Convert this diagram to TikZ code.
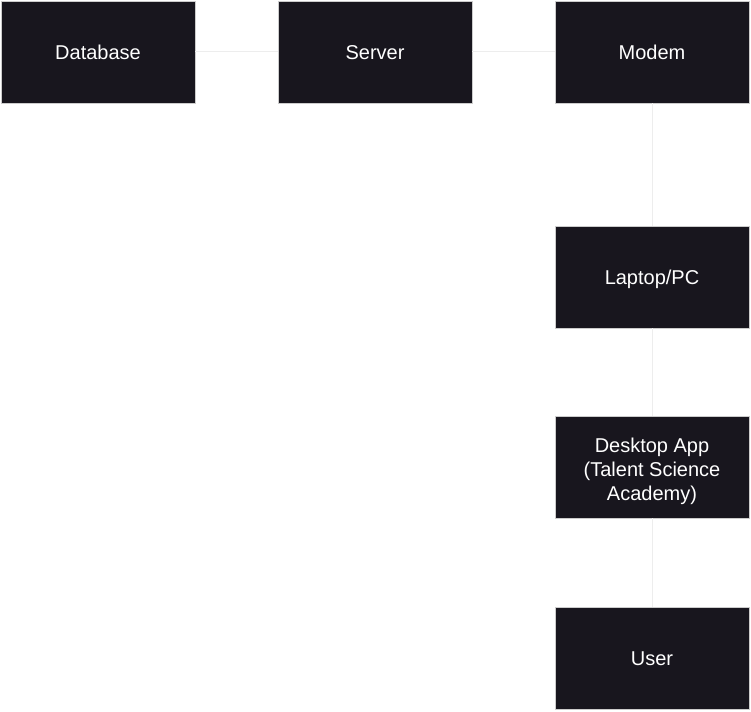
\documentclass[tikz,border=0pt]{standalone}
\usepackage{fontspec}
\setmainfont{Liberation Sans}
\begin{document}
\begin{tikzpicture}[x=1pt,y=-1pt,
  block/.style={draw=black!20,line width=0.8pt,fill=boxfill,text=white,
    minimum width=194pt,minimum height=102pt,inner sep=0pt,
    align=center,font=\fontsize{20}{24}\selectfont},
  oneline/.style={text height=18pt,text depth=3.6pt},
  link/.style={draw=black!7,line width=1pt}]
\definecolor{boxfill}{HTML}{18161E}
\useasboundingbox[fill=white] (0,0) rectangle (751,711);
\node[block,oneline] (db) at (98,52) {Database};
\node[block,oneline] (srv) at (375,52) {Server};
\node[block,oneline] (modem) at (652,52) {Modem};
\node[block,oneline] (pc) at (652,277) {Laptop/PC};
\node[block] (app) at (652,467) {};
\node[align=center,text=white,font=\fontsize{20}{24}\selectfont,inner sep=0pt]
  (applabel) at ([yshift=-4pt]app.center) {Desktop App\\(Talent Science\\Academy)};
\node[block,oneline] (user) at (652,658) {User};
\draw[link] (db) -- (srv);
\draw[link] (srv) -- (modem);
\draw[link] (modem) -- (pc);
\draw[link] (pc) -- (app);
\draw[link] (app) -- (user);
\end{tikzpicture}
\end{document}
